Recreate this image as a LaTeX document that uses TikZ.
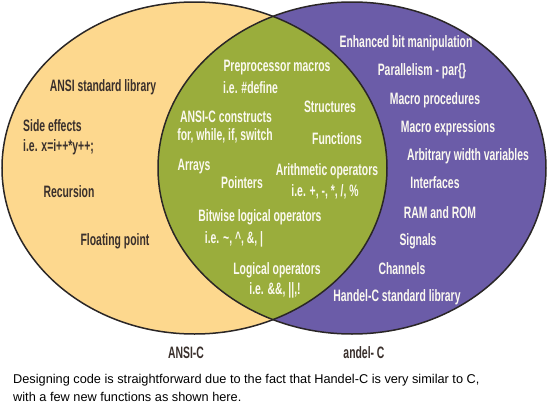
\documentclass[tikz,border=0pt]{standalone}
\usepackage{fontspec}
\setmainfont{Liberation Sans}
\newfontfamily\condfont[FakeStretch=0.63]{Liberation Sans Bold}
\definecolor{ansiorange}{HTML}{FDD88E}
\definecolor{lensgreen}{HTML}{9AAD3C}
\definecolor{handelpurple}{HTML}{6B5CA8}
\definecolor{darktext}{HTML}{3A302C}
\definecolor{lighttext}{HTML}{FBF9F0}
\definecolor{outline}{HTML}{2A2626}
\begin{document}
\begin{tikzpicture}[x=1pt,y=-1pt,
  lbl/.style={inner sep=0pt,font=\condfont\fontsize{16.5}{16.5}\selectfont},
  darklbl/.style={lbl,text=darktext},
  lightlbl/.style={lbl,text=lighttext},
  caption/.style={inner sep=0pt,anchor=west,text=black,font=\fontsize{12.75}{14}\selectfont}]
\useasboundingbox (0,0) rectangle (550,418);
\fill[white] (0,0) rectangle (550,418);
% ellipses
\fill[ansiorange] (194.5,168) ellipse [x radius=192.5pt, y radius=166pt];
\fill[handelpurple] (352,168) ellipse [x radius=194pt, y radius=166pt];
\begin{scope}
  \clip (194.5,168) ellipse [x radius=192.5pt, y radius=166pt];
  \fill[lensgreen] (352,168) ellipse [x radius=194pt, y radius=166pt];
\end{scope}
\draw[outline,line width=1.5pt] (194.5,168) ellipse [x radius=192.5pt, y radius=166pt];
\draw[outline,line width=1.5pt] (352,168) ellipse [x radius=194pt, y radius=166pt];
% ANSI-only
\node[darklbl] (stdlib) at (103,87) {ANSI standard library};
\node[darklbl,anchor=west] (side) at (23,126) {Side effects};
\node[darklbl,anchor=west] (sideeg) at (23,147) {i.e. x=i++*y++;};
\node[darklbl] (recur) at (69,192) {Recursion};
\node[darklbl] (float) at (115,241) {Floating point};
% common
\node[lightlbl] (prep) at (277,68) {Preprocessor macros};
\node[lightlbl,anchor=west] (prepeg) at (223,88) {i.e. \#define};
\node[lightlbl] (struct) at (330,107) {Structures};
\node[lightlbl] (constr) at (226,117) {ANSI-C constructs};
\node[lightlbl] (constreg) at (225,136) {for, while, if, switch};
\node[lightlbl] (func) at (337,139) {Functions};
\node[lightlbl] (arrays) at (194,167) {Arrays};
\node[lightlbl] (point) at (242,183) {Pointers};
\node[lightlbl] (arith) at (327,171) {Arithmetic operators};
\node[lightlbl] (aritheg) at (325,192) {i.e. +, -, *, /, \%};
\node[lightlbl] (bitw) at (260,217) {Bitwise logical operators};
\node[lightlbl] (bitweg) at (234,239) {i.e. \textasciitilde, \textasciicircum, \&, |};
\node[lightlbl] (logic) at (277,270) {Logical operators};
\node[lightlbl] (logiceg) at (275,290) {i.e. \&\&, ||,!};
% Handel-only
\node[lightlbl] (bitman) at (406,43) {Enhanced bit manipulation};
\node[lightlbl] (par) at (422,71) {Parallelism - par\{\}};
\node[lightlbl] (mproc) at (435,100) {Macro procedures};
\node[lightlbl] (mexpr) at (448,128) {Macro expressions};
\node[lightlbl] (arbw) at (468,156) {Arbitrary width variables};
\node[lightlbl] (iface) at (435,183) {Interfaces};
\node[lightlbl] (ram) at (440,213) {RAM and ROM};
\node[lightlbl] (sig) at (418,241) {Signals};
\node[lightlbl] (chan) at (402,269) {Channels};
\node[lightlbl] (hstd) at (397,297) {Handel-C standard library};
% set labels
\node[darklbl] (ansilbl) at (186,353) {ANSI-C};
\node[darklbl] (handellbl) at (364,353) {andel- C};
% caption
\node[caption] (cap1) at (13,380) {Designing code is straightforward due to the fact that Handel-C is very similar to C,};
\node[caption] (cap2) at (13,397) {with a few new functions as shown here.};
\end{tikzpicture}
\end{document}
